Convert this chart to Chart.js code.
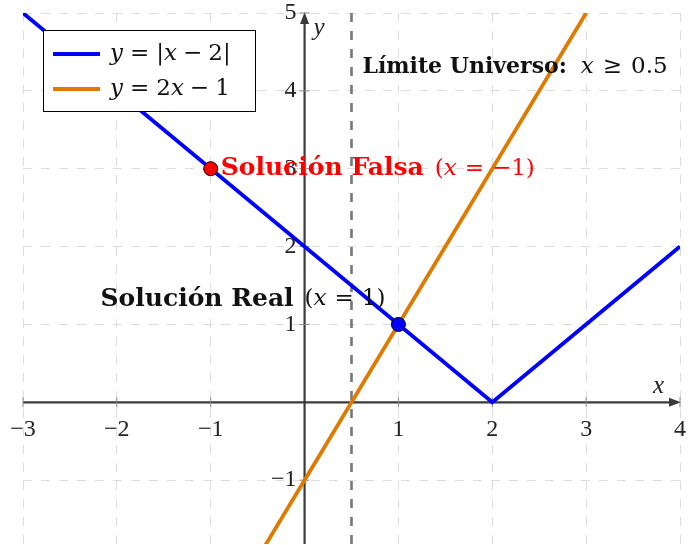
<!DOCTYPE html>
<html>
<head>
<meta charset="utf-8">
<script src="https://cdn.jsdelivr.net/npm/chart.js@4.4.0/dist/chart.umd.min.js"></script>
<style>
  html, body { margin: 0; padding: 0; background: #fff; overflow: hidden; }
  canvas { display: block; }
</style>
</head>
<body>
<canvas id="c" width="696" height="552"></canvas>
<script>
// datos de la gráfica
const absX = [-3, 2, 4];          // y = |x - 2|
const absY = [5, 0, 2];
const linX = [-0.5, 3];           // y = 2x - 1
const linY = [-2, 5];
const gridX = [-3, -2, -1, 0, 1, 2, 3, 4];
const gridY = [-1, 0, 1, 2, 3, 4, 5];
const xTicks = [-3, -2, -1, 1, 2, 3, 4];
const yTicks = [-1, 1, 2, 3, 4, 5];
const limitX = 0.5;
const falseSol = [{ x: -1, y: 3 }];
const realSol = [{ x: 1, y: 1 }];

const BLUE   = '#0000ff';
const ORANGE = '#df7a00';
const RED    = '#ff0000';
const AXIS   = '#3a3a3a';
const LIB    = "'Liberation Serif', serif";
const DJV    = "'DejaVu Serif', serif";

const F_T  = `24px ${LIB}`;       // marcas
const F_R  = `23px ${DJV}`;
const F_I  = `italic 23px ${DJV}`;
const F_B  = `bold 25px ${DJV}`;

// dibuja varios trozos de texto seguidos; un número es un hueco en px
function runs(ctx, parts, x, y, color, align) {
  const width = p => {
    if (typeof p === 'number') return p;
    ctx.font = p[1];
    return ctx.measureText(p[0]).width;
  };
  const w = parts.reduce((s, p) => s + width(p), 0);
  let cx = align === 'right' ? x - w : (align === 'center' ? x - w / 2 : x);
  ctx.fillStyle = color;
  ctx.textBaseline = 'middle';
  ctx.textAlign = 'left';
  parts.forEach(p => {
    if (typeof p !== 'number') {
      ctx.font = p[1];
      ctx.fillText(p[0], cx, y);
    }
    cx += width(p);
  });
}

const axesPlugin = {
  id: 'axes',
  beforeDatasetsDraw(chart) {
    const { ctx, scales: { x, y }, chartArea: a } = chart;
    ctx.save();
    // límite del universo
    const lx = x.getPixelForValue(limitX);
    ctx.strokeStyle = '#777';
    ctx.lineWidth = 2.6;
    ctx.setLineDash([9, 9]);
    ctx.beginPath();
    ctx.moveTo(lx, a.top);
    ctx.lineTo(lx, a.bottom);
    ctx.stroke();
    ctx.setLineDash([]);

    const x0 = x.getPixelForValue(0);
    const y0 = y.getPixelForValue(0);
    ctx.strokeStyle = AXIS;
    ctx.fillStyle = AXIS;
    ctx.lineWidth = 2.2;
    // eje x
    ctx.beginPath();
    ctx.moveTo(a.left, y0);
    ctx.lineTo(a.right - 4, y0);
    ctx.stroke();
    ctx.beginPath();
    ctx.moveTo(a.right + 1, y0);
    ctx.lineTo(a.right - 11, y0 - 4.5);
    ctx.lineTo(a.right - 11, y0 + 4.5);
    ctx.closePath();
    ctx.fill();
    // eje y
    ctx.beginPath();
    ctx.moveTo(x0, a.bottom);
    ctx.lineTo(x0, a.top + 4);
    ctx.stroke();
    ctx.beginPath();
    ctx.moveTo(x0, a.top - 1);
    ctx.lineTo(x0 - 4.5, a.top + 11);
    ctx.lineTo(x0 + 4.5, a.top + 11);
    ctx.closePath();
    ctx.fill();

    // marcas
    ctx.lineWidth = 1;
    ctx.strokeStyle = '#888';
    xTicks.forEach(v => {
      const px = x.getPixelForValue(v);
      ctx.beginPath(); ctx.moveTo(px, y0 - 5); ctx.lineTo(px, y0 + 5); ctx.stroke();
    });
    yTicks.forEach(v => {
      const py = y.getPixelForValue(v);
      ctx.beginPath(); ctx.moveTo(x0 - 5, py); ctx.lineTo(x0 + 5, py); ctx.stroke();
    });
    ctx.restore();
  },
  afterDraw(chart) {
    const { ctx, scales: { x, y }, chartArea: a } = chart;
    ctx.save();
    const x0 = x.getPixelForValue(0);
    const y0 = y.getPixelForValue(0);
    // etiquetas de marcas
    xTicks.forEach(v => {
      const t = v < 0 ? '\u2212' + Math.abs(v) : String(v);
      runs(ctx, [[t, F_T]], x.getPixelForValue(v), y0 + 27, '#222', 'center');
    });
    yTicks.forEach(v => {
      const t = v < 0 ? '\u2212' + Math.abs(v) : String(v);
      runs(ctx, [[t, F_T]], x0 - 8, y.getPixelForValue(v), '#222', 'right');
    });
    runs(ctx, [['x', `italic 25px ${LIB}`]], a.right - 27, y0 - 16, '#222', 'left');
    runs(ctx, [['y', `italic 25px ${LIB}`]], x0 + 9, a.top + 15, '#222', 'left');

    // anotaciones
    const fp = falseSol[0], rp = realSol[0];
    runs(ctx, [['Solución Falsa', F_B], 11, ['(', F_R], ['x', F_I], 8, ['=', F_R], 8, ['\u22121)', F_R]],
      x.getPixelForValue(fp.x) + 10, y.getPixelForValue(fp.y), RED, 'left');
    runs(ctx, [['Solución Real', F_B], 11, ['(', F_R], ['x', F_I], 8, ['=', F_R], 8, ['1)', F_R]],
      x.getPixelForValue(rp.x) - 13, y.getPixelForValue(rp.y) - 25, '#111', 'right');
    runs(ctx, [['Límite Universo:', `bold 22px ${DJV}`], 14, ['x', F_I], 9, ['\u2265', F_R], 9, ['0.5', F_R]],
      x.getPixelForValue(limitX) + 11, y.getPixelForValue(4.3), '#111', 'left');

    // leyenda
    const lx = 43, ly = 30, lw = 212, lh = 81;
    ctx.fillStyle = '#fff';
    ctx.fillRect(lx, ly, lw, lh);
    ctx.strokeStyle = '#000';
    ctx.lineWidth = 1;
    ctx.strokeRect(lx + 0.5, ly + 0.5, lw, lh);
    const entries = [
      [BLUE, [['y', F_I], 7, ['=', F_R], 7, ['|', F_R], ['x', F_I], 6, ['\u2212', F_R], 6, ['2|', F_R]]],
      [ORANGE, [['y', F_I], 7, ['=', F_R], 7, ['2', F_R], ['x', F_I], 6, ['\u2212', F_R], 6, ['1', F_R]]]
    ];
    entries.forEach(([col, parts], i) => {
      const ey = ly + 24 + i * 35;
      ctx.strokeStyle = col;
      ctx.lineWidth = 4;
      ctx.beginPath(); ctx.moveTo(lx + 10, ey); ctx.lineTo(lx + 57, ey); ctx.stroke();
      runs(ctx, parts, lx + 67, ey, '#111', 'left');
    });
    ctx.restore();
  }
};

new Chart(document.getElementById('c'), {
  type: 'scatter',
  data: {
    datasets: [
      {
        label: 'y = |x - 2|',
        data: absX.map((v, i) => ({ x: v, y: absY[i] })),
        showLine: true,
        borderColor: BLUE,
        borderWidth: 3.8,
        pointRadius: 0,
        order: 3
      },
      {
        label: 'y = 2x - 1',
        data: linX.map((v, i) => ({ x: v, y: linY[i] })),
        showLine: true,
        borderColor: ORANGE,
        borderWidth: 3.8,
        pointRadius: 0,
        order: 2
      },
      {
        label: 'falsa',
        data: falseSol,
        pointRadius: 7,
        backgroundColor: RED,
        borderColor: '#000',
        borderWidth: 1,
        order: 1
      },
      {
        label: 'real',
        data: realSol,
        pointRadius: 7,
        backgroundColor: BLUE,
        borderColor: '#000',
        borderWidth: 1,
        order: 0
      }
    ]
  },
  options: {
    responsive: false,
    animation: false,
    layout: { padding: { left: 23, right: 16, top: 13, bottom: 0 } },
    plugins: { legend: { display: false }, tooltip: { enabled: false } },
    scales: {
      x: {
        type: 'linear',
        min: -3, max: 4,
        afterBuildTicks: s => { s.ticks = gridX.map(v => ({ value: v })); },
        afterFit: s => { s.height = 0; },
        ticks: { display: false },
        grid: { color: '#dcdcdc', lineWidth: 1, drawTicks: false },
        border: { display: false, dash: [9, 9] }
      },
      y: {
        type: 'linear',
        min: -1.82, max: 5,
        afterBuildTicks: s => { s.ticks = gridY.map(v => ({ value: v })); },
        afterFit: s => { s.width = 0; },
        ticks: { display: false },
        grid: { color: '#dcdcdc', lineWidth: 1, drawTicks: false },
        border: { display: false, dash: [9, 9] }
      }
    }
  },
  plugins: [axesPlugin]
});
</script>
</body>
</html>
